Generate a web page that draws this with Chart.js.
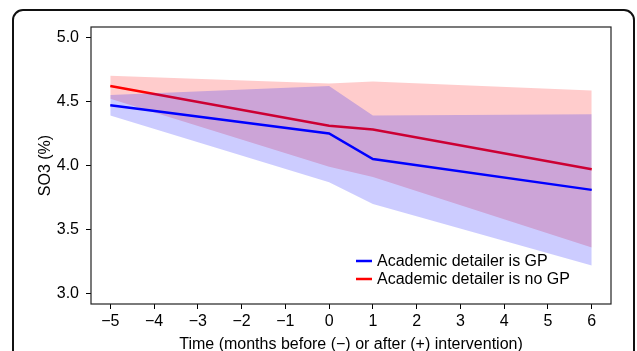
<!DOCTYPE html>
<html>
<head>
<meta charset="utf-8">
<script src="https://cdn.jsdelivr.net/npm/chart.js"></script>
<style>
  body { margin: 0; background: #fff; }
  #wrap { width: 637px; height: 351px; }
</style>
</head>
<body>
<div id="wrap"><canvas id="myChart" width="637" height="351"></canvas></div>
<script>
// data
const months = [-5, 0, 1, 6];
const gpMean  = [4.47, 4.25, 4.05, 3.81];
const gpUpper = [4.55, 4.62, 4.39, 4.40];
const gpLower = [4.39, 3.87, 3.70, 3.22];
const noGpMean  = [4.62, 4.31, 4.28, 3.97];
const noGpUpper = [4.70, 4.64, 4.655, 4.585];
const noGpLower = [4.52, 3.99, 3.91, 3.36];

const xTicks = [-5, -4, -3, -2, -1, 0, 1, 2, 3, 4, 5, 6];
const yTicks = [3.0, 3.5, 4.0, 4.5, 5.0];
const seriesNames = ['Academic detailer is GP', 'Academic detailer is no GP'];

const FONT = '"Liberation Sans", Arial, Helvetica, sans-serif';
const FS = 16;

function pts(ys) {
    return months.map((m, i) => ({ x: m, y: ys[i] }));
}

function band(ys, fill, color) {
    return {
        data: pts(ys),
        fill: fill,
        backgroundColor: color,
        borderColor: 'transparent',
        borderWidth: 0,
        pointRadius: 0,
        tension: 0
    }
}

// index 0 is painted last, so the blue band sits over the red line
const data = {
    datasets: [
        { label: seriesNames[0], data: pts(gpMean), borderColor: '#0000ff', borderWidth: 2.5, pointRadius: 0, fill: false },
        band(gpUpper, '+1', 'rgba(0,0,255,0.2)'),
        band(gpLower, false, 'transparent'),
        { label: seriesNames[1], data: pts(noGpMean), borderColor: '#ff0000', borderWidth: 2.5, pointRadius: 0, fill: false },
        band(noGpUpper, '+1', 'rgba(255,0,0,0.2)'),
        band(noGpLower, false, 'transparent')
    ]
}

const framePlugin = {
    id: 'frame',
    beforeDraw(chart) {
        const ctx = chart.ctx;
        ctx.save();
        ctx.strokeStyle = '#111';
        ctx.lineWidth = 2;
        ctx.beginPath();
        ctx.roundRect(13, 10, 621, 360, 10);
        ctx.stroke();
        ctx.restore();
    },
    afterDraw(chart) {
        const ctx = chart.ctx;
        const a = chart.chartArea;
        ctx.save();
        ctx.strokeStyle = '#222';
        ctx.lineWidth = 1.2;
        ctx.strokeRect(a.left, a.top, a.right - a.left, a.bottom - a.top);

        // legend in the lower right of the plot
        const items = [[seriesNames[0], '#0000ff'], [seriesNames[1], '#ff0000']];
        ctx.font = FS + 'px ' + FONT;
        ctx.textBaseline = 'middle';
        ctx.textAlign = 'left';
        items.forEach((it, i) => {
            const y = 261 + i * 18;
            ctx.strokeStyle = it[1];
            ctx.lineWidth = 2.5;
            ctx.beginPath();
            ctx.moveTo(356, y);
            ctx.lineTo(372, y);
            ctx.stroke();
            ctx.fillStyle = '#000';
            ctx.fillText(it[0], 377, y + 1);
        });
        ctx.restore();
    }
}

const config = {
    type: 'line',
    data,
    options: {
        responsive: false,
        animation: false,
        layout: { padding: { top: 27, right: 26, left: 0, bottom: 0 } },
        plugins: {
            legend: { display: false },
            tooltip: { enabled: false },
            filler: { drawTime: 'beforeDatasetDraw' }
        },
        scales: {
            x: {
                type: 'linear',
                min: -5.44,
                max: 6.44,
                afterFit: s => { s.height = 47; },
                afterBuildTicks: s => { s.ticks = xTicks.map(v => ({ value: v })); },
                grid: { drawOnChartArea: false, drawTicks: true, tickLength: 5, tickColor: '#000', tickWidth: 1 },
                border: { display: false },
                ticks: {
                    color: '#000',
                    padding: 3,
                    maxRotation: 0,
                    autoSkip: false,
                    font: { family: FONT, size: FS },
                    callback: v => (v < 0 ? '\u2212' + Math.abs(v) : String(v))
                },
                title: {
                    display: true,
                    text: 'Time (months before (\u2212) or after (+) intervention)',
                    color: '#000',
                    font: { family: FONT, size: FS, lineHeight: 0.8 },
                    padding: { top: 0, bottom: 0 }
                }
            },
            y: {
                min: 2.92,
                max: 5.08,
                afterFit: s => { s.width = 91; },
                afterBuildTicks: s => { s.ticks = yTicks.map(v => ({ value: v })); },
                grid: { drawOnChartArea: false, drawTicks: true, tickLength: 5, tickColor: '#000', tickWidth: 1 },
                border: { display: false },
                ticks: {
                    color: '#000',
                    padding: 7,
                    autoSkip: false,
                    font: { family: FONT, size: FS },
                    callback: v => v.toFixed(1)
                },
                title: {
                    display: true,
                    text: 'SO3 (%)',
                    color: '#000',
                    font: { family: FONT, size: FS },
                    padding: { top: 36, bottom: 0 }
                }
            }
        }
    },
    plugins: [framePlugin]
}

const myChart = new Chart(document.getElementById('myChart'), config);
</script>
</body>
</html>
